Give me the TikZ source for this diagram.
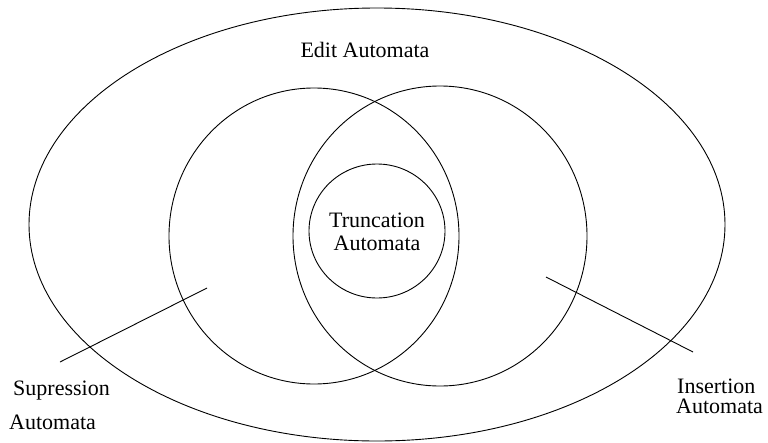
\documentclass[tikz,border=0pt]{standalone}
\usepackage{fontspec}
\setmainfont{Liberation Serif}
\usetikzlibrary{shapes.geometric}
\begin{document}
\begin{tikzpicture}[x=1pt,y=-1pt,
  ring/.style={ellipse,draw,line width=0.9pt,inner sep=0pt},
  lbl/.style={font=\fontsize{22}{23}\selectfont,inner sep=0pt},
  pointer/.style={draw,line width=0.9pt}]
\useasboundingbox (0,0) rectangle (768,442);
\node[ring,minimum width=696pt,minimum height=433pt] (edit) at (377,224.5) {};
\node[ring,minimum width=290pt,minimum height=296pt] (supp) at (314,236) {};
\node[ring,minimum width=294pt,minimum height=300pt] (ins) at (440,236) {};
\node[ring,minimum width=136pt,minimum height=134pt] (trunc) at (377,231) {};
\node[lbl,anchor=base] (editl) at (365,57) {Edit Automata};
\node[lbl,anchor=base] (truncl1) at (377,227) {Truncation};
\node[lbl,anchor=base] (truncl2) at (377,250) {Automata};
\node[lbl,anchor=base west] (suppl1) at (13,395) {Supression};
\node[lbl,anchor=base west] (suppl2) at (9,429) {Automata};
\node[lbl,anchor=base west] (insl1) at (677,393) {Insertion};
\node[lbl,anchor=base west] (insl2) at (676,413) {Automata};
\coordinate (sa) at (207,288);
\coordinate (sb) at (60,362);
\coordinate (ia) at (546,277);
\coordinate (ib) at (693,352);
\draw[pointer] (sa) -- (sb);
\draw[pointer] (ia) -- (ib);
\end{tikzpicture}
\end{document}
